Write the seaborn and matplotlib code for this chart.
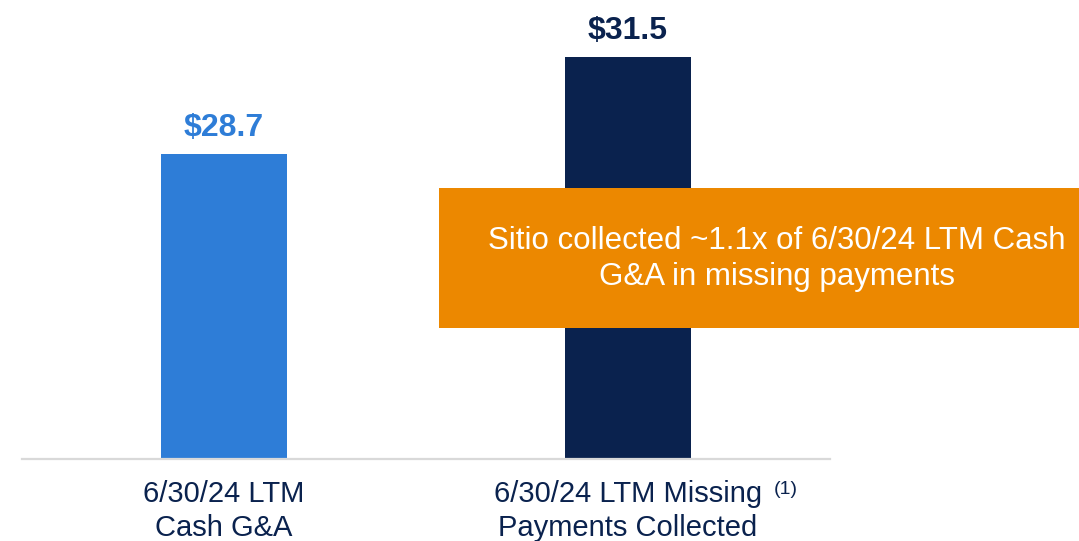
import matplotlib
matplotlib.use('Agg')
import matplotlib.pyplot as plt
from matplotlib.patches import Rectangle
import seaborn as sns
import pandas as pd

sns.set_theme(style='white')
plt.rcParams['font.family'] = ['Liberation Sans', 'DejaVu Sans']

categories = ['6/30/24 LTM\nCash G&A', '6/30/24 LTM Missing\nPayments Collected']
values = [28.7, 31.5]
value_labels = ['$28.7', '$31.5']
bar_colors = ['#2E7DD7', '#0A224E']
label_colors = ['#2E7DD7', '#0A224E']
callout = 'Sitio collected ~1.1x of 6/30/24 LTM Cash\nG&A in missing payments'
footnote = '(1)'

navy = '#0A224E'
orange = '#EC8800'

df = pd.DataFrame({'category': categories, 'value': values})

fig = plt.figure(figsize=(10.79, 5.41), dpi=100)
ax = fig.add_axes([22 / 1079, 82 / 541, 808 / 1079, 459 / 541])

sns.barplot(data=df, x='category', y='value', hue='category',
            palette=bar_colors, legend=False, width=0.314, saturation=1,
            linewidth=0, ax=ax)

ax.set_xlim(-0.5, 1.5)
ax.set_ylim(19.9, 33.15)
ax.set_xlabel('')
ax.set_ylabel('')
ax.set_yticks([])
for side in ['top', 'right', 'left']:
    ax.spines[side].set_visible(False)
ax.spines['bottom'].set_color('#D9D9D9')
ax.spines['bottom'].set_linewidth(1.6)
ax.tick_params(axis='x', length=0, pad=15, labelsize=21, labelcolor=navy)
for t in ax.get_xticklabels():
    t.set_linespacing(1.27)

for i, (v, lab, c) in enumerate(zip(values, value_labels, label_colors)):
    ax.annotate(lab, xy=(i, v), xytext=(0, 13), textcoords='offset points',
                ha='center', va='baseline', fontsize=23, fontweight='bold', color=c)

# superscript footnote marker on second label
fig.text(786 / 1079, 1 - 490 / 541, footnote, fontsize=14, color=navy,
         ha='center', va='center')

# orange callout box
fig.patches.append(Rectangle((439 / 1079, 1 - 328 / 541), 640 / 1079, 140 / 541,
                             transform=fig.transFigure, facecolor=orange,
                             edgecolor='none', zorder=5))
fig.text(777 / 1079, 1 - 259 / 541, callout, fontsize=22.5, color='white',
         ha='center', va='center', linespacing=1.27, zorder=6)

plt.savefig('out.png', dpi=100)
plt.close()
